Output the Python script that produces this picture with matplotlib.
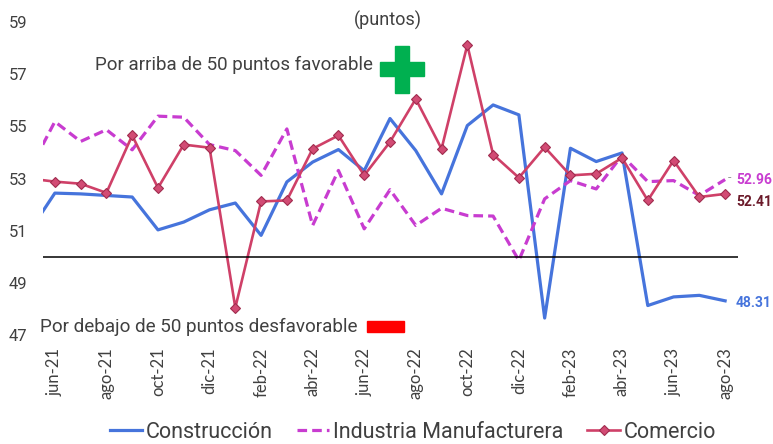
import numpy as np
import matplotlib.pyplot as plt
from matplotlib.patches import Rectangle

meses = ['may-21', 'jun-21', 'jul-21', 'ago-21', 'sep-21', 'oct-21', 'nov-21', 'dic-21',
         'ene-22', 'feb-22', 'mar-22', 'abr-22', 'may-22', 'jun-22', 'jul-22', 'ago-22',
         'sep-22', 'oct-22', 'nov-22', 'dic-22', 'ene-23', 'feb-23', 'mar-23', 'abr-23',
         'may-23', 'jun-23', 'jul-23', 'ago-23']

construccion = [50.95, 52.44, 52.41, 52.35, 52.29, 51.03, 51.33, 51.80, 52.06, 50.82,
                52.87, 53.63, 54.11, 53.30, 55.30, 54.07, 52.41, 55.03, 55.82, 55.44,
                47.65, 54.16, 53.65, 53.98, 48.13, 48.46, 48.52, 48.31]
industria = [53.30, 55.18, 54.42, 54.87, 54.10, 55.39, 55.35, 54.30, 54.07, 53.12,
             54.90, 51.20, 53.31, 51.07, 52.57, 51.20, 51.86, 51.58, 51.56, 49.86,
             52.22, 52.92, 52.60, 53.88, 52.88, 52.92, 52.35, 52.96]
comercio = [53.00, 52.88, 52.80, 52.45, 54.65, 52.64, 54.30, 54.18, 48.05, 52.12,
            52.16, 54.14, 54.65, 53.12, 54.40, 56.05, 54.14, 58.12, 53.92, 53.03,
            54.20, 53.12, 53.18, 53.79, 52.16, 53.69, 52.29, 52.41]

c_con = '#4674DC'
c_ind = '#C83CD0'
c_com = '#CF4068'
gris = '#404040'

plt.rcParams['font.family'] = ['Roboto', 'DejaVu Sans']

W, H = 773, 444
fig = plt.figure(figsize=(W / 100, H / 100), dpi=100)
ax = fig.add_axes([43 / W, 1 - 335 / H, (738 - 43) / W, (335 - 22) / H])

x = np.arange(len(meses))
ax.plot(x, construccion, color=c_con, lw=2.3, label='Construcción')
ax.plot(x, industria, color=c_ind, lw=2.3, ls=(0, (3, 1.6)), label='Industria Manufacturera')
ax.plot(x, comercio, color=c_com, lw=1.9, marker='D', ms=5.5, mfc='#D24B74',
        mec='#A02C4E', mew=0.8, label='Comercio')
ax.axhline(50, color='black', lw=1.1)

ax.set_xlim(0.54, 27.5)
ax.set_ylim(47, 59)
ax.set_yticks(range(47, 60, 2))
ax.set_xticks(x[1::2], meses[1::2], rotation=90)
for s in ax.spines.values():
    s.set_visible(False)
ax.tick_params(axis='y', length=0, pad=11.5, labelsize=12, labelcolor=gris)
ax.tick_params(axis='x', length=0, pad=9, labelsize=12, labelcolor=gris)
for t in ax.get_xticklabels():
    t.set_fontfamily('Lato')


def px(xp, yp):
    return xp / W, 1 - yp / H


fig.text(*px(388, 20), '(puntos)', ha='center', va='center', fontsize=13, color=gris)
fig.text(*px(95, 65), 'Por arriba de 50 puntos favorable', ha='left', va='center',
         fontsize=13.5, color=gris)
fig.text(*px(40, 327), 'Por debajo de 50 puntos desfavorable', ha='left', va='center',
         fontsize=13.6, color=gris)

# cruz verde y barra roja
verde = '#00B050'
fig.patches.append(Rectangle(px(380, 76), 44 / W, 14 / H, transform=fig.transFigure,
                             color=verde))
fig.patches.append(Rectangle(px(395, 93), 14 / W, 47 / H, transform=fig.transFigure,
                             color=verde))
fig.patches.append(Rectangle(px(367, 332), 37 / W, 11 / H, transform=fig.transFigure,
                             color='#FF0000'))

# etiquetas finales
fig.text(*px(728, 178), '-', ha='left', va='center', fontsize=9, color='#999999')
fig.text(*px(736, 180), '52.96', ha='left', va='center', fontsize=10, color=c_ind,
         fontweight='bold')
fig.text(*px(736, 202), '52.41', ha='left', va='center', fontsize=10, color='#6B1A2A',
         fontweight='bold')
fig.text(*px(736, 303), '48.31', ha='left', va='center', fontsize=10, color=c_con,
         fontweight='bold')

fig.legend(loc='center', bbox_to_anchor=(413 / W, 1 - 432 / H), ncol=3, frameon=False,
           fontsize=15.5, handlelength=1.5, handletextpad=0.2, columnspacing=1.1,
           labelcolor=gris)

fig.savefig('out.png', dpi=100)
